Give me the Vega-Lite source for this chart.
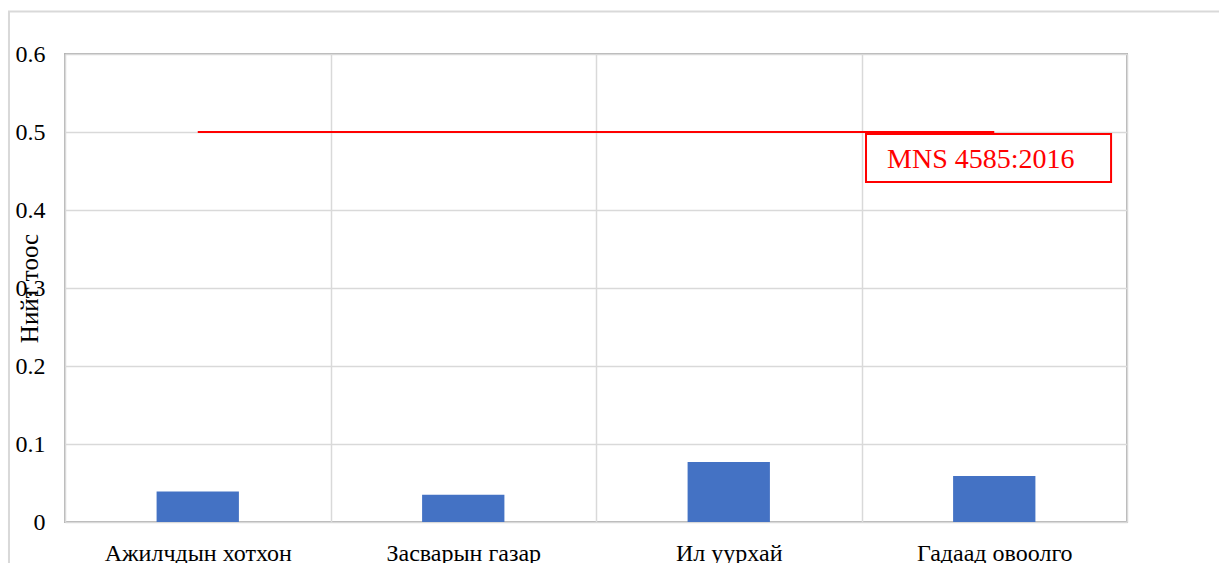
{
  "$schema": "https://vega.github.io/schema/vega-lite/v6.json",
  "width": 1062,
  "height": 468,
  "autosize": {"type": "none"},
  "padding": {"left": 65, "top": 54, "right": 92, "bottom": 41},
  "background": "#ffffff",
  "config": {
    "font": "Liberation Serif",
    "view": {"stroke": "#b3b3b3", "strokeWidth": 2}
  },
  "datasets": {
    "dust": [
      {"site": "Ажилчдын хотхон", "value": 0.039},
      {"site": "Засварын газар", "value": 0.035},
      {"site": "Ил уурхай", "value": 0.077},
      {"site": "Гадаад овоолго", "value": 0.059}
    ],
    "label": [
      {"x0": 3.017, "x1": 3.94, "y0": 0.4974, "y1": 0.436, "yt": 0.4665, "text": "MNS 4585:2016"}
    ]
  },
  "encoding": {
    "y": {
      "type": "quantitative",
      "scale": {"domain": [0, 0.6], "nice": false, "zero": true}
    }
  },
  "layer": [
    {
      "layer": [
        {
          "data": {"name": "dust"},
          "mark": {"type": "bar", "color": "#4472c4", "width": {"band": 0.31}},
          "encoding": {
            "x": {
              "field": "site",
              "type": "nominal",
              "sort": null,
              "scale": {"paddingInner": 0, "paddingOuter": 0},
              "axis": {
                "title": null,
                "labelAngle": 0,
                "labelFontSize": 24,
                "labelLimit": 400,
                "labelColor": "#000000",
                "labelPadding": 19,
                "ticks": false,
                "domain": false,
                "grid": true,
                "tickBand": "extent",
                "gridColor": "#d9d9d9",
                "gridWidth": 1.5
              }
            },
            "y": {
              "field": "value",
              "type": "quantitative",
              "axis": {
                "title": "Нийт тоос",
                "titleFontSize": 25,
                "titleFontWeight": "normal",
                "titleColor": "#000000",
                "titleX": -36,
                "titleY": 234,
                "titleAngle": -90,
                "titleAlign": "center",
                "titleBaseline": "middle",
                "values": [0, 0.1, 0.2, 0.3, 0.4, 0.5, 0.6],
                "format": "~g",
                "labelFontSize": 24,
                "labelColor": "#000000",
                "labelPadding": 20,
                "ticks": false,
                "domain": false,
                "grid": true,
                "gridColor": "#d9d9d9",
                "gridWidth": 1.5
              }
            }
          }
        },
        {
          "data": {"name": "dust"},
          "mark": {"type": "line", "color": "#ff0000", "strokeWidth": 2},
          "encoding": {
            "x": {"field": "site", "type": "nominal", "sort": null},
            "y": {"datum": 0.5, "type": "quantitative"}
          }
        }
      ]
    },
    {
      "layer": [
        {
          "data": {"name": "label"},
          "mark": {"type": "rect", "fill": "#ffffff", "stroke": "#ff0000", "strokeWidth": 2},
          "encoding": {
            "x": {"field": "x0", "type": "quantitative", "scale": {"domain": [0, 4], "nice": false, "zero": false}, "axis": null},
            "x2": {"field": "x1"},
            "y": {"field": "y0", "type": "quantitative"},
            "y2": {"field": "y1"}
          }
        },
        {
          "data": {"name": "label"},
          "mark": {"type": "text", "color": "#ff0000", "fontSize": 28, "align": "left", "baseline": "middle", "dx": 21, "dy": 2},
          "encoding": {
            "x": {"field": "x0", "type": "quantitative"},
            "y": {"field": "yt", "type": "quantitative"},
            "text": {"field": "text"}
          }
        },
        {
          "data": {"values": [{}]},
          "mark": {"type": "rect", "fill": null, "stroke": "#d9d9d9", "strokeWidth": 2},
          "encoding": {
            "x": {"datum": -0.211, "type": "quantitative"},
            "x2": {"datum": 4.6},
            "y": {"datum": 0.6545, "type": "quantitative"},
            "y2": {"datum": -0.15}
          }
        }
      ]
    }
  ],
  "resolve": {"scale": {"x": "independent"}}
}
